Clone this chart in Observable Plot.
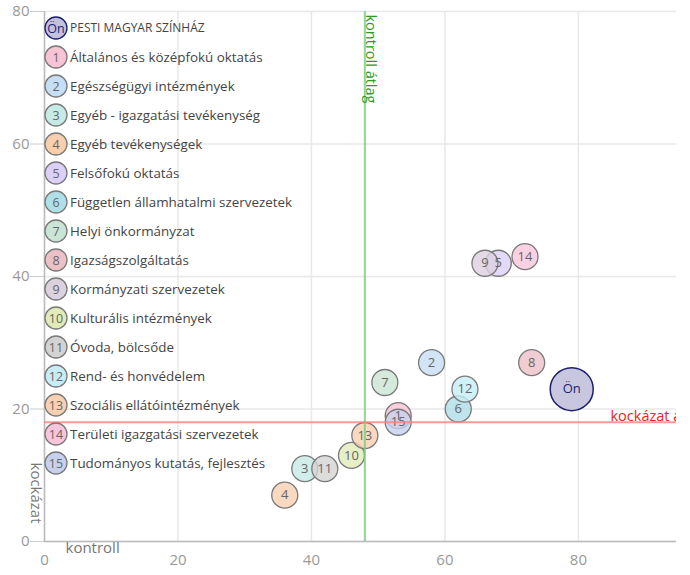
<!DOCTYPE html>
<html>
<head>
<meta charset="utf-8">
<script src="https://cdn.jsdelivr.net/npm/d3@7"></script>
<script src="https://cdn.jsdelivr.net/npm/@observablehq/plot@0.6"></script>
<style>
  body { margin: 0; background: #fff; font-family: "Open Sans", sans-serif; }
  #wrap { position: relative; width: 690px; height: 575px; }
  #legend { position: absolute; left: 43px; top: 13px; }
  .row { display: flex; align-items: center; height: 29px; font-size: 13.4px; color: #444; white-space: nowrap; }
  .row.own span { font-size: 12px; }
  .row svg { display: block; margin-right: 1px; }
</style>
</head>
<body>
<div id="wrap"><div id="legend"></div></div>
<script>
// ---- data ----
const ids = ["Ön","1","2","3","4","5","6","7","8","9","10","11","12","13","14","15"];
const names = [
  "PESTI MAGYAR SZÍNHÁZ",
  "Általános és középfokú oktatás",
  "Egészségügyi intézmények",
  "Egyéb - igazgatási tevékenység",
  "Egyéb tevékenységek",
  "Felsőfokú oktatás",
  "Független államhatalmi szervezetek",
  "Helyi önkormányzat",
  "Igazságszolgáltatás",
  "Kormányzati szervezetek",
  "Kulturális intézmények",
  "Óvoda, bölcsőde",
  "Rend- és honvédelem",
  "Szociális ellátóintézmények",
  "Területi igazgatási szervezetek",
  "Tudományos kutatás, fejlesztés"
];
const kontroll = [79, 53, 58, 39, 36, 68, 62, 51, 73, 66, 46, 42, 63, 48, 72, 53];
const kockazat = [23, 19, 27, 11, 7, 42, 20, 24, 27, 42, 13, 11, 23, 16, 43, 18];
const kontrollAtlag = 48;
const kockazatAtlag = 18;
const xTicks = [0, 20, 40, 60, 80];
const yTicks = [0, 20, 40, 60, 80];
const xLabel = "kontroll";
const yLabel = "kockázat";
const kontrollAtlagLabel = "kontroll átlag";
const kockazatAtlagLabel = "kockázat átlag";

// ---- styles ----
const palette = ["#c3c1dc","#f7c3d5","#c6dff5","#c6eae5","#f8d0b0","#dccff8","#afdfe7","#cae5d5",
                 "#ecc0c7","#dcd1df","#e0ebb7","#d3d3d3","#c6edf8","#f8d1b2","#f7c6dc","#c7d1ee"];

const rows = ids.map((id, i) => ({id, name: names[i], x: kontroll[i], y: kockazat[i], color: palette[i], own: i === 0}));
const others = rows.filter(d => !d.own);
const own = rows.filter(d => d.own);

const chart = Plot.plot({
  width: 690,
  height: 575,
  marginLeft: 44,
  marginRight: 14,
  marginTop: 11,
  marginBottom: 34,
  style: {fontFamily: "Open Sans, sans-serif", background: "#fff"},
  x: {domain: [0, 94.7]},
  y: {domain: [0, 80]},
  color: {type: "identity"},
  marks: [
    Plot.gridX(xTicks, {stroke: "#e8e8e8", strokeOpacity: 1, strokeWidth: 1.5}),
    Plot.gridY(yTicks, {stroke: "#e8e8e8", strokeOpacity: 1, strokeWidth: 1.5}),
    Plot.axisY(yTicks, {tickSize: 14, tickPadding: 1, stroke: "#ccc", fill: "#999", fontSize: 15, label: null}),
    Plot.axisX(xTicks, {tickSize: 0, tickPadding: 13, fill: "#999", fontSize: 15, label: null}),
    Plot.ruleX([0], {stroke: "#bbb", strokeWidth: 1.5}),
    Plot.ruleY([0], {stroke: "#bbb", strokeWidth: 1.5}),
    Plot.dot(others, {x: "x", y: "y", r: 13, fill: "color", fillOpacity: 0.8, stroke: "#7a7a7a", strokeWidth: 1.3}),
    Plot.text(others, {x: "x", y: "y", text: "id", fill: "#666", fontSize: 13}),
    Plot.dot(own, {x: "x", y: "y", r: 21.5, fill: "color", fillOpacity: 0.9, stroke: "#1e1e70", strokeWidth: 1.5}),
    Plot.text(own, {x: "x", y: "y", text: "id", fill: "#1e1e70", fontSize: 13}),
    Plot.ruleX([kontrollAtlag], {stroke: "#7fcc7f", strokeWidth: 2, strokeOpacity: 0.85}),
    Plot.ruleY([kockazatAtlag], {stroke: "#ff8080", strokeWidth: 2, strokeOpacity: 0.8}),
    Plot.text([kontrollAtlagLabel], {x: () => kontrollAtlag, frameAnchor: "top", text: d => d, rotate: 90,
      textAnchor: "start", lineAnchor: "bottom", fill: "#2a9a2a", fontSize: 14.5, dy: 3, dx: 1}),
    Plot.text([kockazatAtlagLabel], {y: () => kockazatAtlag, frameAnchor: "right", text: d => d,
      textAnchor: "start", lineAnchor: "bottom", fill: "#ee2222", fontSize: 14.5, dx: -66, dy: -1, clip: true}),
    Plot.text([yLabel], {frameAnchor: "bottom-left", text: d => d, rotate: 90, textAnchor: "start",
      lineAnchor: "bottom", fill: "#777", fontSize: 15, dx: -14, dy: -79}),
    Plot.text([xLabel], {frameAnchor: "bottom-left", text: d => d, textAnchor: "start",
      lineAnchor: "top", fill: "#777", fontSize: 15, dx: 21, dy: 1})
  ]
});
document.getElementById("wrap").prepend(chart);

// ---- legend (HTML overlay) ----
const legend = document.getElementById("legend");
rows.forEach(d => {
  const row = document.createElement("div");
  row.className = "row" + (d.own ? " own" : "");
  row.innerHTML = `<svg width="26" height="26" viewBox="0 0 26 26">
    <circle cx="13" cy="13" r="11" fill="${d.color}" stroke="${d.own ? "#1e1e70" : "#7a7a7a"}" stroke-width="1.3"/>
    <text x="13" y="13" dy="0.36em" text-anchor="middle" font-size="12.5" fill="${d.own ? "#1e1e70" : "#666"}" font-family="Open Sans">${d.id}</text>
  </svg><span>${d.name}</span>`;
  legend.appendChild(row);
});
</script>
</body>
</html>
